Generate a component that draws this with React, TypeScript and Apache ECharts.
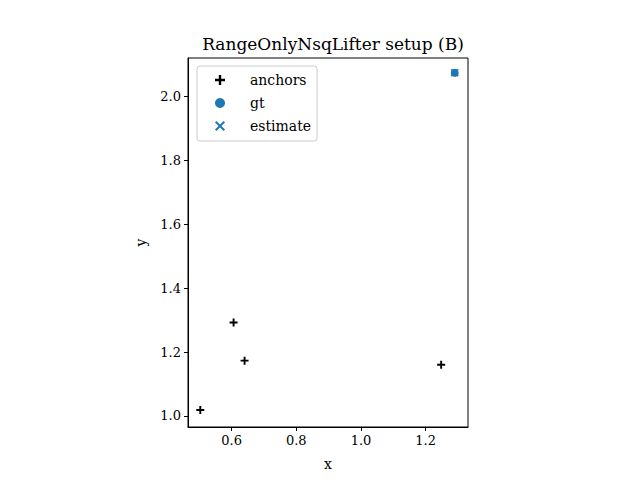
import React, { useEffect, useRef } from "react";
import * as echarts from "echarts";

// anchor positions [x, y]
const anchors = [
  [0.503, 1.019],
  [0.606, 1.292],
  [0.64, 1.173],
  [1.248, 1.16],
];
const gt = [[1.29, 2.073]];
const estimate = [[1.29, 2.073]];

const xTicks = [0.6, 0.8, 1.0, 1.2];
const yTicks = [1.0, 1.2, 1.4, 1.6, 1.8, 2.0];

const plusPath = "path://M-1.2,-5H1.2V-1.2H5V1.2H1.2V5H-1.2V1.2H-5V-1.2H-1.2Z";
const crossPath =
  "path://M-3.6,-5L0,-1.4L3.6,-5L5,-3.6L1.4,0L5,3.6L3.6,5L0,1.4L-3.6,5L-5,3.6L-1.4,0L-5,-3.6Z";

const FONT = "'DejaVu Serif', serif";
const BLUE = "#1f77b4";

const App = () => {
  const chartRef = useRef(null);

  useEffect(() => {
    const chart = echarts.init(chartRef.current, null, { renderer: "svg" });

    const axisCommon = {
      type: "value",
      nameTextStyle: { fontFamily: FONT, fontSize: 14, color: "#000" },
      axisLine: { show: true, lineStyle: { color: "#000", width: 1 } },
      axisTick: {
        show: true,
        inside: false,
        length: 4,
        lineStyle: { color: "#000", width: 1 },
      },
      splitLine: { show: false },
    };

    chart.setOption({
      animation: false,
      textStyle: { fontFamily: FONT },
      title: {
        text: "RangeOnlyNsqLifter setup (B)",
        left: 328,
        textAlign: "center",
        top: 30,
        textStyle: {
          fontFamily: FONT,
          fontSize: 17,
          fontWeight: "normal",
          color: "#000",
        },
      },
      grid: {
        left: 188,
        top: 58,
        right: 172,
        bottom: 53,
        show: true,
        borderColor: "#000",
        borderWidth: 1,
      },
      legend: {
        orient: "vertical",
        left: 197,
        top: 66,
        padding: [7, 6, 8, 18],
        itemGap: 9,
        itemWidth: 10,
        itemHeight: 10,
        backgroundColor: "rgba(255,255,255,0.8)",
        borderColor: "#cccccc",
        borderWidth: 1,
        borderRadius: 3,
        textStyle: {
          fontFamily: FONT,
          fontSize: 14,
          lineHeight: 14,
          color: "#000",
          padding: [0, 0, 0, 20],
        },
        data: [
          { name: "anchors", icon: plusPath, itemStyle: { opacity: 1 } },
          { name: "gt", icon: "circle", itemStyle: { opacity: 1 } },
          { name: "estimate", icon: crossPath, itemStyle: { opacity: 1 } },
        ],
      },
      xAxis: {
        ...axisCommon,
        name: "x",
        nameLocation: "middle",
        nameGap: 30,
        min: 0.465,
        max: 1.331,
        axisTick: { ...axisCommon.axisTick, customValues: xTicks },
        axisLabel: {
          customValues: xTicks,
          margin: 7,
          fontFamily: FONT,
          fontSize: 13,
          color: "#000",
          formatter: (v: number) => v.toFixed(1),
        },
      },
      yAxis: {
        ...axisCommon,
        name: "y",
        nameLocation: "middle",
        nameGap: 40,
        nameRotate: 90,
        min: 0.9656,
        max: 2.119,
        axisTick: { ...axisCommon.axisTick, customValues: yTicks },
        axisLabel: {
          customValues: yTicks,
          margin: 7,
          fontFamily: FONT,
          fontSize: 13,
          color: "#000",
          formatter: (v: number) => v.toFixed(1),
        },
      },
      series: [
        {
          name: "anchors",
          type: "scatter",
          symbol: plusPath,
          symbolSize: 8,
          itemStyle: { color: "#000", opacity: 1 },
          data: anchors,
        },
        {
          name: "gt",
          type: "scatter",
          symbol: "circle",
          symbolSize: 8,
          itemStyle: { color: BLUE, opacity: 1 },
          data: gt,
        },
        {
          name: "estimate",
          type: "scatter",
          symbol: crossPath,
          symbolSize: 8,
          itemStyle: { color: BLUE, opacity: 1 },
          data: estimate,
        },
      ],
    });

    return () => chart.dispose();
  }, []);

  return (
    <div
      ref={chartRef}
      style={{
        position: "fixed",
        left: 0,
        top: 0,
        width: "640px",
        height: "480px",
        background: "#fff",
      }}
    />
  );
};

export default App;
